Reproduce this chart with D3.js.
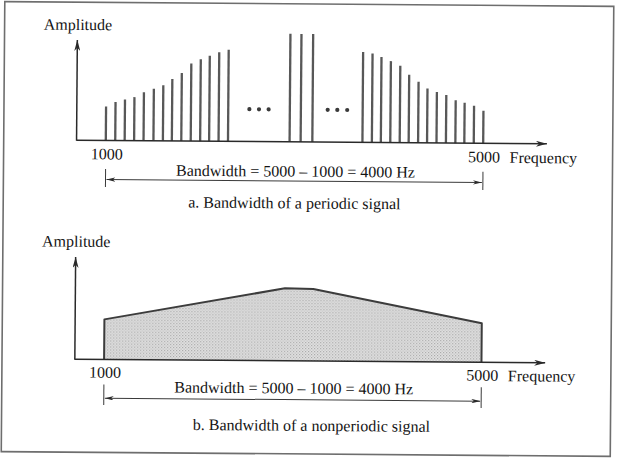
<!DOCTYPE html>
<html>
<head>
<meta charset="utf-8">
<script src="https://cdn.jsdelivr.net/npm/d3@7/dist/d3.min.js"></script>
<style>
  html, body { margin: 0; padding: 0; background: #fff; }
  svg { display: block; }
  text { font-family: "Liberation Serif", "DejaVu Serif", serif; fill: #141414; }
</style>
</head>
<body>
<svg id="chart" width="620" height="462"></svg>
<script>
// ---------- data ----------
const periodicFreqs = [1000, 1100, 1200, 1300, 1400, 1505, 1605, 1700, 1800, 1900, 2000, 2095, 2195, 2295,
                       2948, 3065, 3189,
                       3720, 3820, 3915, 4015, 4115, 4210, 4310, 4405, 4505, 4605, 4705, 4800, 4900, 5000];
const periodicAmps  = [34, 38.5, 41, 43.5, 48.5, 52, 55.5, 62, 68, 77.5, 82, 85.5, 89, 91.5,
                       108, 108, 108,
                       90.5, 89, 85.5, 81.5, 77, 68, 61, 54.5, 51, 48, 43, 40.5, 37.5, 32.5];
const dotFreqs = [2519, 2621, 2723, 3349, 3451, 3556];
const dotAmp = 32.3;
const nonperiodicFreqs = [1000, 2911, 3212, 5000];
const nonperiodicAmps  = [40, 72.5, 72, 39];
const tickFreqs  = [1000, 5000];
const tickLabels = ["1000", "5000"];
const axisLabelX = "Frequency";
const axisLabelY = "Amplitude";
const bandwidthText = "Bandwidth = 5000 \u2013 1000 = 4000 Hz";
const captions = ["a. Bandwidth of a periodic signal", "b. Bandwidth of a nonperiodic signal"];

// ---------- layout ----------
const svg = d3.select("#chart");
const defs = svg.append("defs");
function marker(id, w, h, color) {
  defs.append("marker")
    .attr("id", id).attr("viewBox", `0 0 ${w} ${h}`)
    .attr("refX", w).attr("refY", h / 2)
    .attr("markerWidth", w).attr("markerHeight", h)
    .attr("markerUnits", "userSpaceOnUse")
    .attr("orient", "auto-start-reverse")
    .append("path")
    .attr("d", `M0,0 L${w},${h / 2} L0,${h} L${w * 0.3},${h / 2} Z`)
    .attr("fill", color);
}
marker("axisArrow", 11, 6, "#2a2a2a");
marker("bwArrow", 9, 4.5, "#2a2a2a");

// stipple fill like the halftone screen of the original
const pat = defs.append("pattern").attr("id", "stipple")
  .attr("width", 3).attr("height", 3).attr("patternUnits", "userSpaceOnUse");
pat.append("rect").attr("width", 3).attr("height", 3).attr("fill", "#e2e2e2");
pat.append("rect").attr("x", 0).attr("y", 0).attr("width", 1.2).attr("height", 1.2).attr("fill", "#a8a8a8");
pat.append("rect").attr("x", 1.5).attr("y", 1.5).attr("width", 1.2).attr("height", 1.2).attr("fill", "#b8b8b8");

const root = svg.append("g").attr("transform", "rotate(0.45, 310, 231)");

// frame
root.append("rect").attr("x", 3).attr("y", 4).attr("width", 609).attr("height", 450)
  .attr("fill", "none").attr("stroke", "#6e6e6e").attr("stroke-width", 1.6);

const x = d3.scaleLinear().domain([1000, 5000]).range([105.1, 482.5]);
const xAxisStart = 690, xAxisEnd = 5675;

const panels = [
  { y: d3.scaleLinear().domain([0, 100]).range([142, 42]), yTop: 100.2, ampLabelY: 31.8,
    tickY: 161, bwY: 176.8, brTop: 170.5, brBot: 188.6, brArrow: 181.1, capY: 208.5, capX: 188 },
  { y: d3.scaleLinear().domain([0, 100]).range([361, 261]), yTop: 102.2, ampLabelY: 248.5,
    tickY: 379.3, bwY: 393.6, brTop: 386, brBot: 406.6, brArrow: 399.8, capY: 430.9, capX: 194.3 }
];

panels.forEach((p, i) => {
  const g = root.append("g");
  const y = p.y;

  // marks
  if (i === 0) {
    g.selectAll("line.bar").data(periodicFreqs).join("line")
      .attr("class", "bar")
      .attr("x1", d => x(d)).attr("x2", d => x(d))
      .attr("y1", y(0)).attr("y2", (d, k) => y(periodicAmps[k]))
      .attr("stroke", "#585858").attr("stroke-width", 2.3);
    g.selectAll("circle.dot").data(dotFreqs).join("circle")
      .attr("class", "dot")
      .attr("cx", d => x(d)).attr("cy", y(dotAmp)).attr("r", 2.1)
      .attr("fill", "#3a3a3a");
  } else {
    const pts = nonperiodicFreqs.map((f, k) => [f, nonperiodicAmps[k]]);
    const area = d3.area().x(d => x(d[0])).y0(y(0)).y1(d => y(d[1]));
    g.append("path").datum(pts).attr("d", area)
      .attr("fill", "url(#stipple)").attr("stroke", "none");
    const outline = d3.line().x(d => x(d[0])).y(d => y(d[1]));
    const full = [[nonperiodicFreqs[0], 0], ...pts, [nonperiodicFreqs[nonperiodicFreqs.length - 1], 0]];
    g.append("path").datum(full).attr("d", outline)
      .attr("fill", "none").attr("stroke", "#3c3c3c").attr("stroke-width", 2)
      .attr("stroke-linejoin", "round");
  }

  // axes
  g.append("line")
    .attr("x1", x(xAxisStart)).attr("x2", x(xAxisEnd))
    .attr("y1", y(0)).attr("y2", y(0))
    .attr("stroke", "#2a2a2a").attr("stroke-width", 1.5)
    .attr("marker-end", "url(#axisArrow)");
  g.append("line")
    .attr("x1", x(xAxisStart)).attr("x2", x(xAxisStart))
    .attr("y1", y(0) + 0.7).attr("y2", y(p.yTop))
    .attr("stroke", "#2a2a2a").attr("stroke-width", 1.5)
    .attr("marker-end", "url(#axisArrow)");

  // labels
  g.append("text").attr("x", x(xAxisStart) + 0.5).attr("y", p.ampLabelY)
    .attr("text-anchor", "middle").attr("font-size", 16).text(axisLabelY);
  g.selectAll("text.tick").data(tickFreqs).join("text")
    .attr("class", "tick")
    .attr("x", d => x(d) + 1).attr("y", p.tickY)
    .attr("text-anchor", "middle").attr("font-size", 16)
    .text((d, k) => tickLabels[k]);
  g.append("text").attr("x", 509).attr("y", p.tickY + 0.3)
    .attr("font-size", 16).text(axisLabelX);

  // bandwidth bracket
  tickFreqs.forEach(f => {
    g.append("line").attr("x1", x(f)).attr("x2", x(f))
      .attr("y1", p.brTop).attr("y2", p.brBot)
      .attr("stroke", "#3a3a3a").attr("stroke-width", 1);
  });
  g.append("line")
    .attr("x1", x(1000) + 1).attr("x2", x(5000) - 1)
    .attr("y1", p.brArrow).attr("y2", p.brArrow)
    .attr("stroke", "#3a3a3a").attr("stroke-width", 1)
    .attr("marker-start", "url(#bwArrow)").attr("marker-end", "url(#bwArrow)");
  g.append("text").attr("x", 295).attr("y", p.bwY)
    .attr("text-anchor", "middle").attr("font-size", 16).text(bandwidthText);

  // caption
  g.append("text").attr("x", p.capX).attr("y", p.capY)
    .attr("font-size", 16).text(captions[i]);
});
</script>
</body>
</html>
